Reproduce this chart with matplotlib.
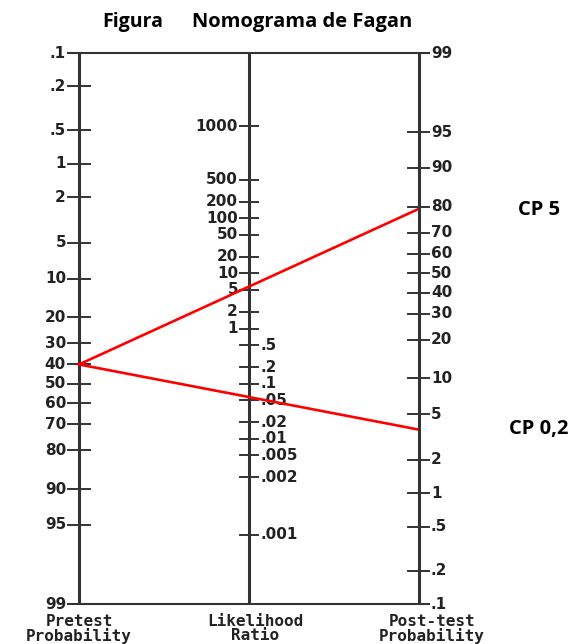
import numpy as np
import matplotlib
matplotlib.use('Agg')
import matplotlib.pyplot as plt

# ---- data ----
pretest_ticks = [0.1, 0.2, 0.5, 1, 2, 5, 10, 20, 30, 40, 50, 60, 70, 80, 90, 95, 99]
pretest_labels = ['.1', '.2', '.5', '1', '2', '5', '10', '20', '30', '40', '50',
                  '60', '70', '80', '90', '95', '99']
lr_ticks = [1000, 500, 200, 100, 50, 20, 10, 5, 2, 1,
            0.5, 0.2, 0.1, 0.05, 0.02, 0.01, 0.005, 0.002, 0.001]
lr_labels = ['1000', '500', '200', '100', '50', '20', '10', '5', '2', '1',
             '.5', '.2', '.1', '.05', '.02', '.01', '.005', '.002', '.001']
post_ticks = [99, 95, 90, 80, 70, 60, 50, 40, 30, 20, 10, 5, 2, 1, 0.5, 0.2, 0.1]
post_labels = ['99', '95', '90', '80', '70', '60', '50', '40', '30', '20', '10',
               '5', '2', '1', '.5', '.2', '.1']
pretest_value = 40
posttest_values = [79, 3.7]
line_labels = ['CP 5', 'CP 0,2']
axis_titles = [('Pretest', 'Probability'), ('Likelihood', 'Ratio'), ('Post-test', 'Probability')]
title_parts = ['Figura', 'Nomograma de Fagan']


def logit(p):
    p = np.asarray(p, dtype=float) / 100.0
    return np.log(p / (1 - p))


L_MIN = float(logit(0.1))
L_MAX = float(logit(99))
SHIFT = L_MIN + L_MAX


def pos_pre(p):
    return logit(p)


def pos_post(p):
    return -logit(p) + SHIFT


def pos_lr(lr):
    return (-np.log(np.asarray(lr, dtype=float)) + SHIFT) / 2.0


# ---- layout (pixels) ----
W, H = 573, 644
TOP_PX, BOT_PX = 53, 604
scale = (BOT_PX - TOP_PX) / (L_MAX - L_MIN)
X_L, X_M, X_R = 79, 249, 419


def px(ypix):
    """pixel row -> nomogram units"""
    return L_MIN + (ypix - TOP_PX) / scale


fig = plt.figure(figsize=(W / 100, H / 100), dpi=100)
ax = fig.add_axes([0, 0, 1, 1])
ax.set_xlim(0, W)
ax.set_ylim(px(H), px(0))
ax.axis('off')

axis_col = '#333333'
txt_col = '#222222'
tick_font = dict(family='DejaVu Sans', fontweight='bold', fontsize=11, color=txt_col)

# vertical axes
for x in (X_L, X_M, X_R):
    ax.plot([x, x], [L_MIN, L_MAX], color=axis_col, lw=2.2, solid_capstyle='butt', zorder=2)
# top and bottom rules
for y in (L_MIN, L_MAX):
    ax.plot([68, 429], [y, y], color=axis_col, lw=1.5, zorder=2)

# pretest axis
for v, lab in zip(pretest_ticks, pretest_labels):
    y = pos_pre(v)
    ax.plot([68, 90], [y, y], color=axis_col, lw=1.4, zorder=2)
    ax.text(66, y, lab, ha='right', va='center', **tick_font)

# likelihood-ratio axis (end labels of the printed scale sit apart from the rest)
end_nudge = {1000: -37 / scale, 0.001: 41 / scale}
for v, lab in zip(lr_ticks, lr_labels):
    y = pos_lr(v) + end_nudge.get(v, 0.0)
    ax.plot([240, 258], [y, y], color=axis_col, lw=1.4, zorder=2)
    if v >= 1:
        ax.text(238, y, lab, ha='right', va='center', **tick_font)
    else:
        ax.text(260, y, lab, ha='left', va='center', **tick_font)

# post-test axis
for v, lab in zip(post_ticks, post_labels):
    y = pos_post(v)
    ax.plot([408, 429], [y, y], color=axis_col, lw=1.4, zorder=2)
    ax.text(431, y, lab, ha='left', va='center', **tick_font)

# axis titles
label_font = dict(family='DejaVu Sans Mono', fontweight='bold', fontsize=11.5, color=txt_col)
for x, (l1, l2) in zip((X_L, X_M + 6, X_R + 13), axis_titles):
    ax.text(x, px(621), l1, ha='center', va='center', **label_font)
    ax.text(x, px(636), l2, ha='center', va='center', **label_font)

# red lines
for post, lab in zip(posttest_values, line_labels):
    y0 = pos_pre(pretest_value)
    y1 = pos_post(post)
    ax.plot([X_L, X_R - 2], [y0, y1], color='#ff0000', lw=1.9, zorder=3)
    ax.text(539, y1, lab, ha='center', va='center', family='Open Sans',
            fontweight='bold', fontsize=14.5, color='black')

# title
ax.text(102, px(22), title_parts[0], ha='left', va='center', family='Open Sans',
        fontweight='bold', fontsize=14, color='black')
ax.text(192, px(22), title_parts[1], ha='left', va='center', family='Open Sans',
        fontweight='bold', fontsize=14.5, color='black')

fig.savefig('out.png', dpi=100, facecolor='white')
